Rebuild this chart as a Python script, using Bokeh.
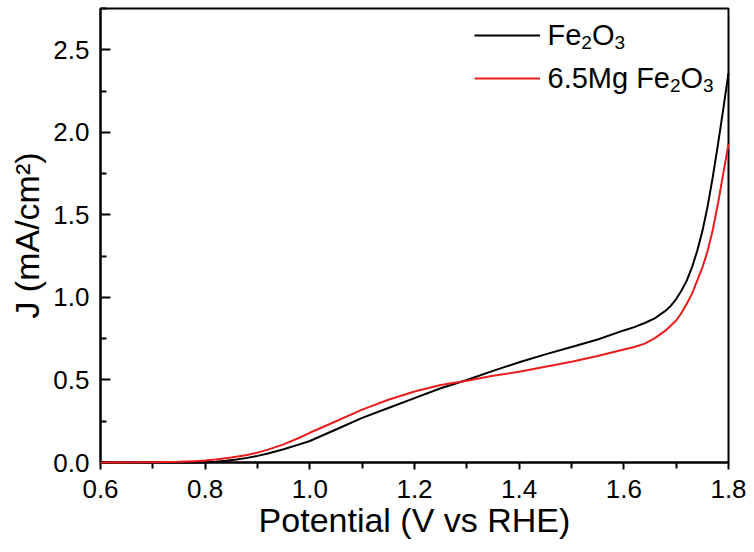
from bokeh.plotting import figure
from bokeh.models import (Range1d, NumeralTickFormatter, Legend, LegendItem,
                          FixedTicker, Label)
from bokeh.embed import file_html
from bokeh.resources import INLINE

# Linear sweep voltammetry: potential (V vs RHE) and photocurrent density (mA/cm^2)
potential_fe2o3 = [0.60, 0.70, 0.78, 0.80, 0.82, 0.84, 0.86, 0.88, 0.90, 0.92, 0.95,
                   0.98, 1.00, 1.05, 1.10, 1.15, 1.20, 1.25, 1.30, 1.35, 1.40, 1.45,
                   1.50, 1.55, 1.60, 1.62, 1.64, 1.66, 1.68, 1.69, 1.70, 1.71, 1.72,
                   1.73, 1.74, 1.75, 1.76, 1.77, 1.78, 1.79, 1.80]
current_fe2o3 = [0.0, 0.0, 0.0, 0.001, 0.004, 0.01, 0.018, 0.028, 0.04, 0.055, 0.08,
                 0.11, 0.13, 0.20, 0.27, 0.33, 0.39, 0.45, 0.50, 0.555, 0.607, 0.655,
                 0.70, 0.745, 0.80, 0.82, 0.845, 0.875, 0.92, 0.95, 0.99, 1.04, 1.10,
                 1.18, 1.28, 1.40, 1.55, 1.73, 1.93, 2.14, 2.36]

potential_mg = [0.60, 0.70, 0.75, 0.78, 0.80, 0.82, 0.85, 0.88, 0.90, 0.92, 0.95,
                0.98, 1.00, 1.05, 1.10, 1.15, 1.20, 1.25, 1.30, 1.35, 1.40, 1.45,
                1.50, 1.55, 1.60, 1.62, 1.64, 1.66, 1.68, 1.69, 1.70, 1.71, 1.72,
                1.73, 1.74, 1.75, 1.76, 1.77, 1.78, 1.79, 1.80]
current_mg = [0.0, 0.001, 0.004, 0.008, 0.012, 0.018, 0.03, 0.045, 0.06, 0.078, 0.11,
              0.15, 0.18, 0.25, 0.32, 0.38, 0.43, 0.47, 0.495, 0.525, 0.55, 0.58,
              0.61, 0.645, 0.685, 0.70, 0.72, 0.755, 0.80, 0.83, 0.86, 0.905, 0.96,
              1.02, 1.10, 1.18, 1.28, 1.41, 1.57, 1.75, 1.93]

x_ticks = [0.6, 0.8, 1.0, 1.2, 1.4, 1.6, 1.8]
y_ticks = [0.0, 0.5, 1.0, 1.5, 2.0, 2.5]

# legend entries as (text, is_subscript) runs
legend_fe2o3 = [("Fe", False), ("2", True), ("O", False), ("3", True)]
legend_mg = [("6.5Mg Fe", False), ("2", True), ("O", False), ("3", True)]

FONT = "Liberation Sans"
MAIN_SIZE = 29
SUB_SIZE = 19
SUB_DROP = 8

# Arial-compatible advance widths (em) for the characters used in the legend
ADVANCE = {"F": 0.611, "e": 0.556, "O": 0.778, "M": 0.833, "g": 0.556,
           ".": 0.278, " ": 0.278}


def run_width(text, size):
    return sum(ADVANCE.get(ch, 0.556) for ch in text) * size


p = figure(width=754, height=552, output_backend="svg", toolbar_location=None,
           x_range=Range1d(0.6, 1.8), y_range=Range1d(0.0, 2.75),
           min_border_left=100, min_border_right=26, min_border_top=8,
           min_border_bottom=90)

p.grid.visible = False
p.outline_line_color = "black"
p.outline_line_width = 2
p.background_fill_color = "white"
p.border_fill_color = "white"

r1 = p.line(potential_fe2o3, current_fe2o3, line_color="black", line_width=2,
            line_join="round", level="overlay")
r2 = p.line(potential_mg, current_mg, line_color="#ec1c1c", line_width=2,
            line_join="round", level="overlay")

xa = p.xaxis[0]
xa.ticker = FixedTicker(ticks=x_ticks,
                        minor_ticks=[round(v + 0.1, 2) for v in x_ticks[:-1]])
xa.formatter = NumeralTickFormatter(format="0.0")
xa.axis_label = "Potential (V vs RHE)"
xa.major_tick_in = 0
xa.major_tick_out = 7
xa.minor_tick_in = 0
xa.minor_tick_out = 6
xa.major_label_standoff = 10

ya = p.yaxis[0]
ya.ticker = FixedTicker(ticks=y_ticks,
                        minor_ticks=[round(v + 0.25, 2) for v in y_ticks])
ya.formatter = NumeralTickFormatter(format="0.0")
ya.axis_label = "J (mA/cm²)"
ya.major_tick_in = 10
ya.major_tick_out = 0
ya.minor_tick_in = 6
ya.minor_tick_out = 0
ya.major_label_standoff = 11

for ax in (xa, ya):
    ax.axis_line_width = 2
    ax.axis_line_color = "black"
    ax.major_tick_line_width = 2
    ax.minor_tick_line_width = 2
    ax.major_label_text_font = FONT
    ax.major_label_text_font_size = "26px"
    ax.major_label_text_color = "black"
    ax.axis_label_text_font = FONT
    ax.axis_label_text_font_size = "34px"
    ax.axis_label_text_font_style = "normal"
    ax.axis_label_text_color = "black"

xa.axis_label_standoff = 0
ya.axis_label_standoff = 4

# legend sample lines; the text is set beside them with sub/normal runs
legend = Legend(items=[LegendItem(label=" ", renderers=[r1]),
                       LegendItem(label=" ", renderers=[r2])],
                location=(374, 364), orientation="vertical",
                glyph_width=66, glyph_height=40, label_height=40,
                label_standoff=7, spacing=3, padding=0, margin=0,
                label_text_font=FONT, label_text_font_size="28px",
                border_line_color=None, background_fill_alpha=0)
p.add_layout(legend, "center")


def add_rich_label(runs, x0, baseline):
    x = x0
    for text, sub in runs:
        size = SUB_SIZE if sub else MAIN_SIZE
        y = baseline - SUB_DROP if sub else baseline
        p.add_layout(Label(x=x, y=y, x_units="screen", y_units="screen",
                           text=text, text_font=FONT,
                           text_font_size=f"{size}px", text_color="black",
                           text_baseline="alphabetic", text_align="left"))
        x += run_width(text, size)


add_rich_label(legend_fe2o3, 447, 428)
add_rich_label(legend_mg, 447, 385)

open("out.html", "w").write(file_html(p, INLINE))
